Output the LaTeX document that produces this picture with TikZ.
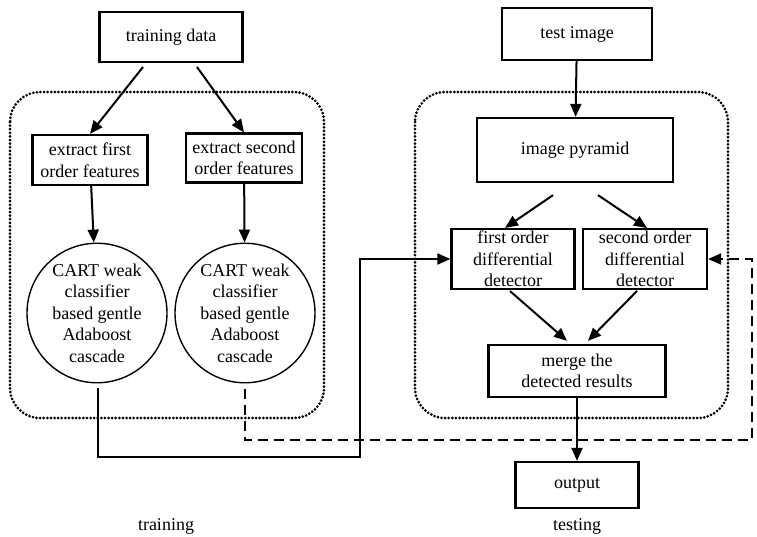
\documentclass[tikz,border=0pt]{standalone}
\usepackage{fontspec}
\setmainfont{Liberation Serif}
\usepackage{tikz}
\usetikzlibrary{arrows.meta,positioning,calc,shapes.geometric}
\tikzset{
  stepbox/.style={draw=black, line width=2.3pt, inner sep=2pt, align=center},
  cascade/.style={draw=black, ellipse, line width=1.4pt, minimum width=140pt, minimum height=130pt, inner sep=0pt, align=center},
  stage/.style={draw=black, line width=3pt, line cap=round, dash pattern=on 0pt off 3.6pt, rounded corners=30pt},
  arr/.style={-{Triangle[length=13pt,width=11pt]}, line width=2pt},
  arrd/.style={-{Triangle[length=13pt,width=11pt]}, line width=2pt, dash pattern=on 10pt off 6pt},
}

\begin{document}
\begin{tikzpicture}[x=1pt,y=-1pt,font=\fontsize{18}{21.5}\selectfont]
  \useasboundingbox (0,0) rectangle (757,536);
  % training side
  \draw[stage] (10,92) rectangle (324,418);
  \node[stepbox, minimum width=143pt, minimum height=50pt] (train) at (171,37) {training data};
  \node[stepbox, minimum width=115pt, minimum height=50pt] (feat1) at (90,160) {extract first\\order features};
  \node[stepbox, minimum width=116pt, minimum height=49pt] (feat2) at (244,158) {extract second\\order features};
  \node[cascade] (cas1) at (97,313) {CART weak\\classifier\\based gentle\\Adaboost\\cascade};
  \node[cascade] (cas2) at (245,313) {CART weak\\classifier\\based gentle\\Adaboost\\cascade};
  \node at (166,526) {training};

  % testing side
  \draw[stage] (415,92) rectangle (728,418);
  \node[stepbox, minimum width=150pt, minimum height=52pt] (img) at (577,34) {test image};
  \node[stepbox, minimum width=196pt, minimum height=64pt] (pyr) at (575,150) {image pyramid};
  \node[stepbox, minimum width=123pt, minimum height=57pt] (det1) at (513,259) {first order\\differential\\detector};
  \node[stepbox, minimum width=124pt, minimum height=57pt] (det2) at (645,259) {second order\\differential\\detector};
  \node[stepbox, minimum width=177pt, minimum height=52pt] (merge) at (577,371) {merge the\\detected results};
  \node[stepbox, minimum width=123pt, minimum height=46pt] (out) at (577,485) {output};
  \node at (577,526) {testing};

  \coordinate (lowL) at (360,457);
  \coordinate (lowR) at (752,440);

  \draw[arr] (143,67) -- (feat1.north);
  \draw[arr] (197,67) -- (feat2.north);
  \draw[arr] (feat1) -- (cas1);
  \draw[arr] (feat2) -- (cas2);
  \draw[arr] (img) -- (pyr);
  \draw[arr] ($(pyr.south)+(-22,12)$) -- ($(det1.north)+(-8,0)$);
  \draw[arr] ($(pyr.south)+(23,12)$) -- ($(det2.north)+(2,0)$);
  \draw[arr] ($(det1.south)+(-3,1)$) -- ($(merge.north)+(-10,-3)$);
  \draw[arr] ($(det2.south)+(-8,1)$) -- ($(merge.north)+(11,-3)$);
  \draw[arr] (merge) -- (out);
  \draw[arr] ($(cas1.south)+(1,5)$) |- (lowL) |- (det1.west);
  \draw[arrd] ($(cas2.south)+(0,6)$) |- (lowR) |- (det2.east);
\end{tikzpicture}
\end{document}
